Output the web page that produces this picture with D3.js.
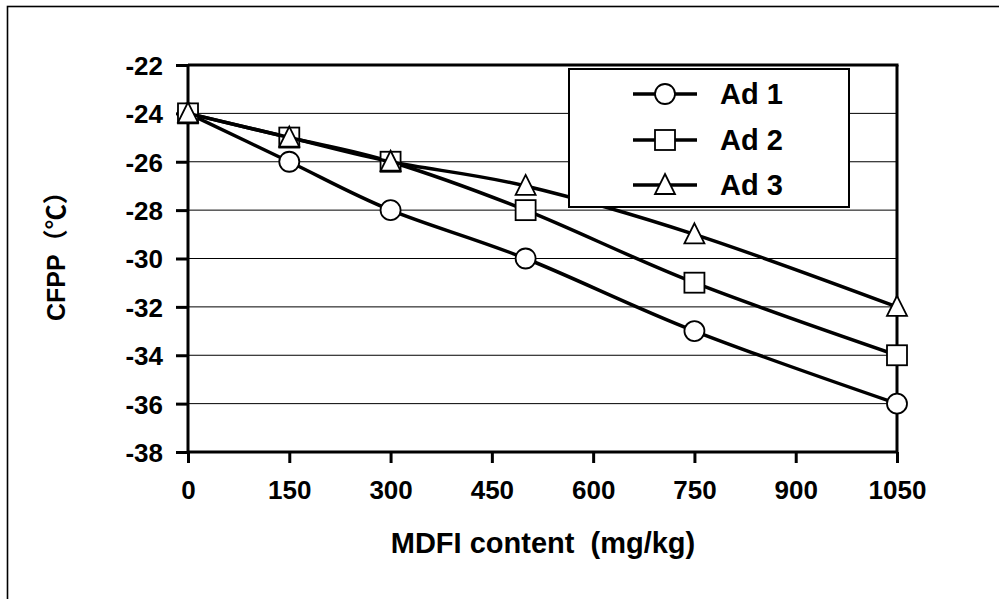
<!DOCTYPE html>
<html>
<head>
<meta charset="utf-8">
<script src="https://cdn.jsdelivr.net/npm/d3@7"></script>
<style>
  html, body { margin: 0; padding: 0; background: #fff; }
  svg { display: block; }
  text { font-family: "Liberation Sans", Arial, "Noto Sans CJK SC", sans-serif; font-weight: bold; fill: #000; white-space: pre; }
</style>
</head>
<body>
<svg id="chart" width="999" height="599"></svg>
<script>
// ---- data ----
const xValues = [0, 150, 300, 500, 750, 1050];
const ad1 = [-24, -26, -28, -30, -33, -36];
const ad2 = [-24, -25, -26, -28, -31, -34];
const ad3 = [-24, -25, -26, -27, -29, -32];
const seriesNames = ["Ad 1", "Ad 2", "Ad 3"];
const seriesShapes = ["circle", "square", "triangle"];
const xTicks = [0, 150, 300, 450, 600, 750, 900, 1050];
const yTicks = [-22, -24, -26, -28, -30, -32, -34, -36, -38];
const xTitle = "MDFI content  (mg/kg)";
const yTitleMain = "CFPP";
const yTitleUnit = "（℃）";

const series = [ad1, ad2, ad3].map((vals, i) => ({
  name: seriesNames[i], shape: seriesShapes[i],
  points: vals.map((v, j) => ({x: xValues[j], y: v}))
}));

const svg = d3.select("#chart");
const L = 188, R = 897, T = 65, B = 452;
const x = d3.scaleLinear().domain([0, 1050]).range([L, R]);
const y = d3.scaleLinear().domain([-38, -22]).range([B, T]);

// outer border (extends past canvas on right/bottom)
svg.append("rect").attr("x", 7.5).attr("y", 6.5).attr("width", 1100).attr("height", 700)
  .attr("fill", "none").attr("stroke", "#000").attr("stroke-width", 1.6);

// gridlines
svg.append("g").selectAll("line").data(yTicks.filter(d => d !== -38 && d !== -22)).join("line")
  .attr("x1", L).attr("x2", R).attr("y1", d => y(d)).attr("y2", d => y(d))
  .attr("stroke", "#000").attr("stroke-width", 1);

// plot frame top & right
svg.append("line").attr("x1", L).attr("x2", R + 1.5).attr("y1", T).attr("y2", T)
  .attr("stroke", "#000").attr("stroke-width", 3);
svg.append("line").attr("x1", R).attr("x2", R).attr("y1", T).attr("y2", B)
  .attr("stroke", "#000").attr("stroke-width", 3);

// axes
const fmt = d => String(d);
const yAxis = d3.axisLeft(y).tickValues(yTicks).tickSize(12).tickPadding(13).tickFormat(fmt);
const gy = svg.append("g").attr("transform", `translate(${L},0)`).call(yAxis);
const xAxis = d3.axisBottom(x).tickValues(xTicks).tickSize(11).tickPadding(18).tickFormat(fmt);
const gx = svg.append("g").attr("transform", `translate(0,${B})`).call(xAxis);
[gx, gy].forEach(g => {
  g.select(".domain").attr("stroke", "#000").attr("stroke-width", 3);
  g.selectAll(".tick line").attr("stroke", "#000").attr("stroke-width", 3);
  g.selectAll(".tick text").attr("font-size", 26).attr("font-family", "Liberation Sans, Arial, sans-serif")
    .attr("font-weight", "bold").attr("fill", "#000");
});
gy.select(".domain").attr("d", `M0,${B}V${T}`);
gx.select(".domain").attr("d", `M${L},0H${R}`);
gy.selectAll(".tick text").attr("dy", "0.36em");

// axis titles
svg.append("text").attr("x", 543).attr("y", 553).attr("text-anchor", "middle")
  .attr("font-size", 29).text(xTitle);
const yt = svg.append("text").attr("transform", "translate(65,321) rotate(-90)").attr("text-anchor", "start")
  .style("font-size", "25px");
yt.append("tspan").text(yTitleMain);
yt.append("tspan").style("font-family", "'Noto Sans CJK SC', sans-serif").style("font-weight", "bold").text(yTitleUnit);

// lines
const line = d3.line().x(d => x(d.x)).y(d => y(d.y)).curve(d3.curveCardinal.tension(0));

function drawMarker(g, shape, cx, cy) {
  if (shape === "circle") {
    g.append("circle").attr("cx", cx).attr("cy", cy).attr("r", 10)
      .attr("fill", "#fff").attr("stroke", "#000").attr("stroke-width", 1.8);
  } else if (shape === "square") {
    g.append("rect").attr("x", cx - 10).attr("y", cy - 10).attr("width", 20).attr("height", 20)
      .attr("fill", "#fff").attr("stroke", "#000").attr("stroke-width", 1.8);
  } else {
    g.append("path").attr("d", `M${cx},${cy - 11}L${cx + 10},${cy + 9}L${cx - 10},${cy + 9}Z`)
      .attr("fill", "#fff").attr("stroke", "#000").attr("stroke-width", 1.8);
  }
}

series.forEach(s => {
  const g = svg.append("g");
  g.append("path").attr("d", line(s.points)).attr("fill", "none")
    .attr("stroke", "#000").attr("stroke-width", 3.5);
  s.points.forEach(p => drawMarker(g, s.shape, x(p.x), y(p.y)));
});

// legend
const lg = svg.append("g");
lg.append("rect").attr("x", 569).attr("y", 69).attr("width", 280).attr("height", 138)
  .attr("fill", "#fff").attr("stroke", "#000").attr("stroke-width", 2);
const rowY = [94, 140, 185];
series.forEach((s, i) => {
  lg.append("line").attr("x1", 633).attr("x2", 697).attr("y1", rowY[i]).attr("y2", rowY[i])
    .attr("stroke", "#000").attr("stroke-width", 3.5);
  drawMarker(lg, s.shape, 665, rowY[i]);
  lg.append("text").attr("x", 720).attr("y", rowY[i]).attr("dy", "0.36em")
    .attr("font-size", 29).text(s.name);
});
</script>
</body>
</html>
